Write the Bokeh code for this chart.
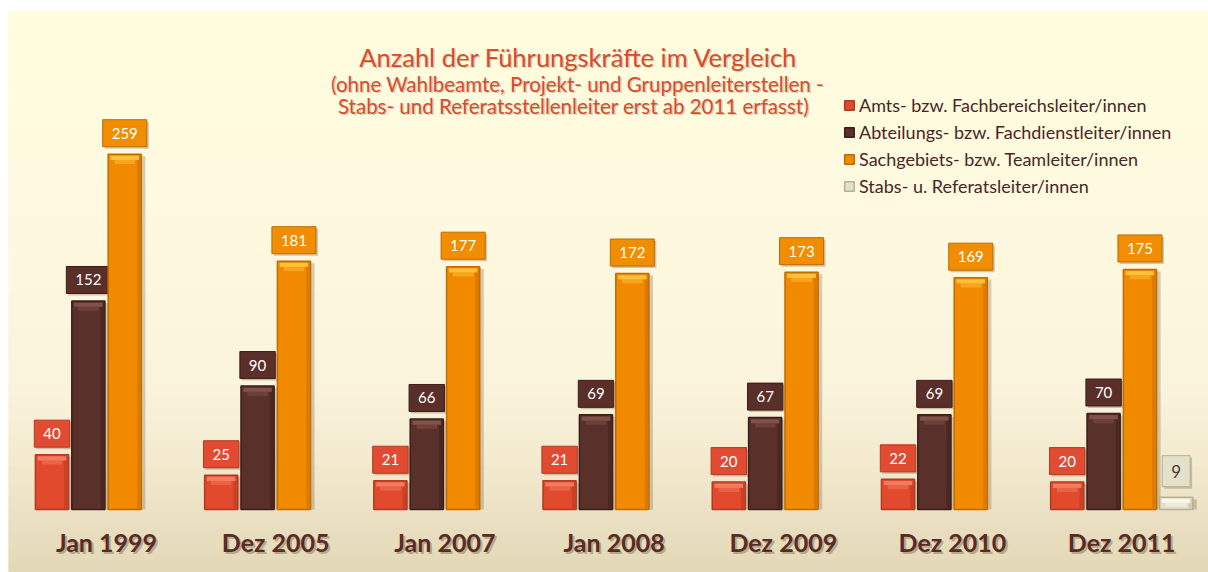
import numpy as np
from bokeh.plotting import figure
from bokeh.models import Range1d, Label, Legend, LegendItem
from bokeh.core.properties import value
from bokeh.embed import file_html
from bokeh.resources import INLINE

# ---------------- data ----------------
categories = ["Jan 1999", "Dez 2005", "Jan 2007", "Jan 2008", "Dez 2009", "Dez 2010", "Dez 2011"]
amts = [40, 25, 21, 21, 20, 22, 20]
abteilungs = [152, 90, 66, 69, 67, 69, 70]
sachgebiets = [259, 181, 177, 172, 173, 169, 175]
stabs = [0, 0, 0, 0, 0, 0, 9]
series_names = ["Amts- bzw. Fachbereichsleiter/innen",
                "Abteilungs- bzw. Fachdienstleiter/innen",
                "Sachgebiets- bzw. Teamleiter/innen",
                "Stabs- u. Referatsleiter/innen"]
title_lines = ["Anzahl der Führungskräfte im Vergleich",
               "(ohne Wahlbeamte, Projekt- und Gruppenleiterstellen -",
               "Stabs- und Referatsstellenleiter erst ab 2011 erfasst)"]

# ---------------- styles ----------------
FONT = "Lato"
fills = ["#E24A2D", "#5A302A", "#F28A00", "#E3E0C8"]
lines = ["#B23A22", "#3C1E19", "#C06C00", "#B5B197"]
highs = ["#F58266", "#85564C", "#FFC640", "#FAF8EA"]
edge_dark = ["#C23E25", "#48241F", "#D47600", "#C9C5AC"]
box_bg = ["#E04B31", "#5A2E29", "#F08D00", "#E4E1CA"]
box_txt = ["white", "white", "white", "#4A3A30"]
box_fs = ["15px", "15px", "15px", "17px"]
box_pad = [dict(left=9, right=9, top=8, bottom=8)] * 3 + [dict(left=9, right=9, top=9, bottom=9)]
box_off = [-21, -21, -21, -26]
offsets = [-0.322, -0.107, 0.108, 0.322]
bar_w = 0.196

X0, X1 = -0.579, 6.513
Y0, Y1 = -45.9, 363.0
FRAME_H = 561
ppu = FRAME_H / (Y1 - Y0)

p = figure(width=1208, height=572, x_range=Range1d(X0, X1), y_range=Range1d(Y0, Y1),
           output_backend="svg", toolbar_location=None,
           x_axis_location=None, y_axis_location=None,
           min_border_left=8, min_border_right=0, min_border_bottom=0, min_border_top=11)
p.grid.visible = False
p.outline_line_color = None
p.border_fill_color = "white"
p.background_fill_color = "#FDF7DE"

# background vertical gradient (decoration)
stops_px = [0, 190, 370, 450, 500, 561]
stops_col = [(255, 253, 221), (254, 249, 223), (251, 244, 221), (243, 234, 207), (235, 225, 196), (227, 215, 182)]
nb = 90
edges = np.linspace(0, FRAME_H, nb + 1)
mids = (edges[:-1] + edges[1:]) / 2
cols = []
for m in mids:
    rgb = [np.interp(m, stops_px, [c[k] for c in stops_col]) for k in range(3)]
    cols.append("#%02x%02x%02x" % tuple(int(round(v)) for v in rgb))
tops_bg = [Y1 - e / ppu for e in edges[:-1]]
bots_bg = [Y1 - e / ppu for e in edges[1:]]
p.quad(left=X0, right=X1, top=tops_bg, bottom=bots_bg, fill_color=cols, line_color=cols, line_width=1)

pos = np.arange(len(categories))
all_series = [amts, abteilungs, sachgebiets, stabs]
main_renderers = []
for i, vals in enumerate(all_series):
    idx = [k for k, v in enumerate(vals) if v > 0]
    xs = [float(pos[k] + offsets[i]) for k in idx]
    tops = [vals[k] for k in idx]
    # drop shadow
    p.vbar(x=[x + 0.024 for x in xs], top=[t - 1.5 for t in tops], bottom=0, width=bar_w,
           fill_color="#6a5a3a", fill_alpha=0.28, line_color=None)
    r = p.vbar(x=xs, top=tops, bottom=0, width=bar_w, fill_color=fills[i],
               line_color=lines[i], line_width=1.5)
    main_renderers.append(r)
    # darker right inner edge (bevel)
    p.vbar(x=[x + bar_w * 0.42 for x in xs], top=[t - 1 for t in tops], bottom=0.6,
           width=bar_w * 0.1, fill_color=edge_dark[i], fill_alpha=0.8, line_color=None)
    # top bevel highlight
    p.vbar(x=xs, top=[t - 1.2 for t in tops], bottom=[t - 1.2 - 3.0 for t in tops],
           width=bar_w * 0.86, fill_color=highs[i], fill_alpha=0.9, line_color=None)
    p.vbar(x=xs, top=[t - 4.2 for t in tops], bottom=[t - 4.2 - 3.0 for t in tops],
           width=bar_w * 0.62, fill_color=highs[i], fill_alpha=0.45, line_color=None)
    labels = [str(t) for t in tops]
    # label box shadow
    p.text(x=xs, y=tops, text=labels, x_offset=2, y_offset=box_off[i] + 2, text_alpha=0,
           text_font=value(FONT), text_font_size=box_fs[i], text_align="center",
           text_baseline="middle", background_fill_color="#6a5a3a", background_fill_alpha=0.3,
           padding=box_pad[i])
    p.text(x=xs, y=tops, text=labels, y_offset=box_off[i], text_color=box_txt[i],
           text_font=value(FONT), text_font_size=box_fs[i], text_align="center",
           text_baseline="middle", background_fill_color=box_bg[i],
           border_line_color=lines[i], border_line_width=1,
           padding=box_pad[i])

# category labels
p.text(x=pos + 0.012, y=0, text=categories, y_offset=34, text_color="#7a6a4a", text_alpha=0.45,
       text_font=value(FONT), text_font_style="bold", text_font_size="25px",
       text_align="center", text_baseline="middle")
p.text(x=pos, y=0, text=categories, y_offset=32, text_color="#5A2A26",
       text_font=value(FONT), text_font_style="bold", text_font_size="25px",
       text_align="center", text_baseline="middle")

# titles
title_specs = [(570, 516, "25.5px"), (569, 489, "20.5px"), (565, 467, "20.5px")]
for txt, (tx, ty, fs) in zip(title_lines, title_specs):
    p.add_layout(Label(x=tx + 1.5, y=ty - 1.5, x_units="screen", y_units="screen", text=txt,
                       text_font=FONT, text_font_size=fs, text_color="#8a7a5a", text_alpha=0.35,
                       text_align="center", text_baseline="alphabetic"))
    p.add_layout(Label(x=tx, y=ty, x_units="screen", y_units="screen", text=txt,
                       text_font=FONT, text_font_size=fs, text_color="#DA4A2E",
                       text_align="center", text_baseline="alphabetic"))

legend = Legend(items=[LegendItem(label=n, renderers=[r]) for n, r in zip(series_names, main_renderers)],
                location=(835, 375), orientation="vertical",
                glyph_width=12, glyph_height=12, label_standoff=4, spacing=5,
                padding=0, margin=0, border_line_color=None, background_fill_alpha=0,
                label_text_font=FONT, label_text_font_size="18px", label_text_color="#4A2623")
p.add_layout(legend)

open("out.html", "w").write(file_html(p, INLINE))
